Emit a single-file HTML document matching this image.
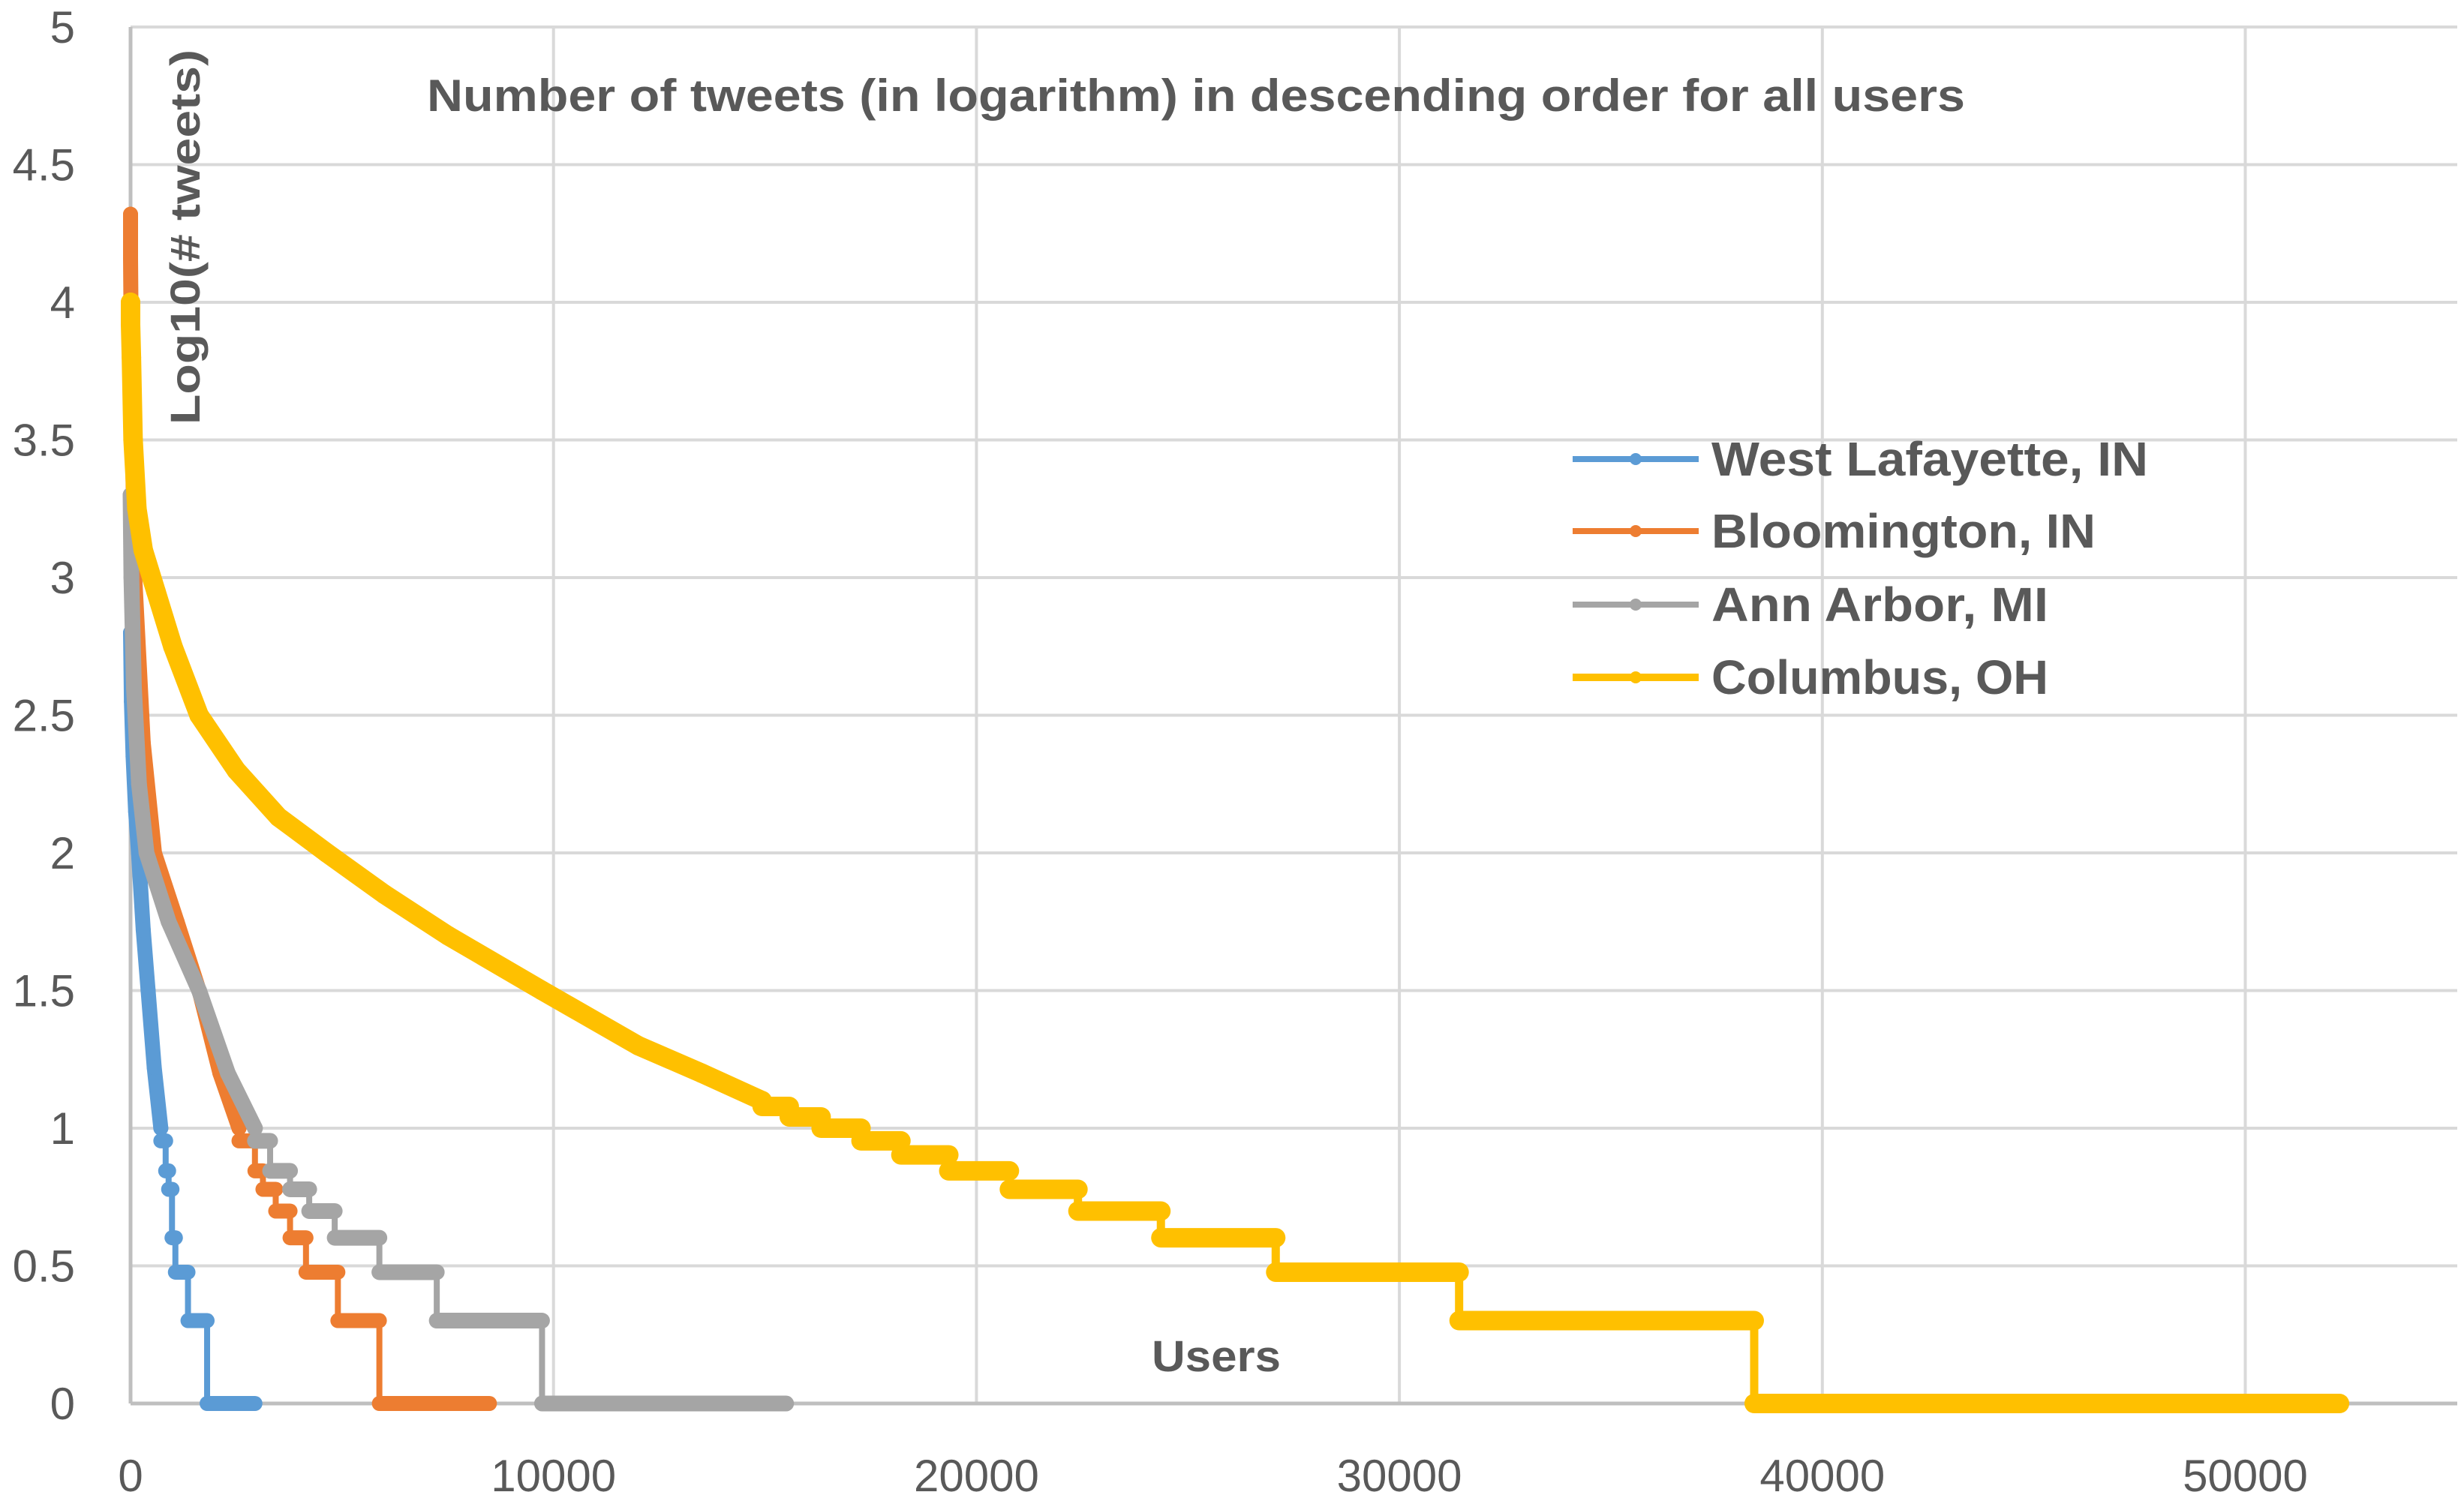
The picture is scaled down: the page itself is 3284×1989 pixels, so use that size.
<!DOCTYPE html>
<html><head><meta charset="utf-8"><style>
html,body{margin:0;padding:0;background:#fff;}
svg{display:block;font-family:"Liberation Sans",sans-serif;}
</style></head><body>
<svg id="chart" width="3284" height="1989" viewBox="0 0 3284 1989" xmlns="http://www.w3.org/2000/svg">
<g id="grid"></g>
<g id="series"></g>
<g id="axes"></g>
<text x="1594" y="148" font-size="60" font-weight="bold" fill="#595959" text-anchor="middle" textLength="2050" lengthAdjust="spacingAndGlyphs">Number of tweets (in logarithm) in descending order for all users</text>
<text transform="translate(266,316) rotate(-90)" font-size="56" font-weight="bold" fill="#595959" text-anchor="middle" textLength="500" lengthAdjust="spacingAndGlyphs">Log10(# tweets)</text>
<text x="1621" y="1828" font-size="58" font-weight="bold" fill="#595959" text-anchor="middle" textLength="172" lengthAdjust="spacingAndGlyphs">Users</text>
<g id="legend"></g>
</svg>
<script>
const NS='http://www.w3.org/2000/svg';
const yTicks=[0,0.5,1,1.5,2,2.5,3,3.5,4,4.5,5];
const yTickLabels=['0','0.5','1','1.5','2','2.5','3','3.5','4','4.5','5'];
const xTicks=[0,10000,20000,30000,40000,50000];
const xTickLabels=['0','10000','20000','30000','40000','50000'];
const seriesNames=['West Lafayette, IN','Bloomington, IN','Ann Arbor, MI','Columbus, OH'];
const seriesColors=['#5b9bd5','#ed7d31','#a5a5a5','#ffc000'];
// smooth parts (rank, log10 tweets)
const wlSmoothX=[0,20,60,120,188,300,415,560,716];
const wlSmoothY=[2.8,2.55,2.35,2.15,2.0,1.72,1.5,1.22,1.0];
const blSmoothX=[0,0,30,100,300,566,1100,1621,2112,2564];
const blSmoothY=[4.32,4.16,3.6,3.0,2.4,2.0,1.75,1.5,1.2,1.0];
const aaSmoothX=[0,20,80,200,377,900,1620,2300,2941];
const aaSmoothY=[3.3,3.0,2.6,2.25,2.0,1.75,1.5,1.2,1.0];
const coSmoothX=[0,0,20,60,150,300,600,1000,1620,2500,3500,4640,6000,7500,9730,12000,13500,14933];
const coSmoothY=[4.0,3.92,3.8,3.5,3.25,3.1,2.95,2.75,2.5,2.3,2.13,2.0,1.85,1.7,1.5,1.3,1.2,1.1];
// step levels: start ranks, levels, final end rank
const wlStepX=[716,830,900,980,1060,1358,1810];
const wlStepY=[0.954,0.845,0.778,0.602,0.477,0.301,0];
const wlEnd=2941;
const blStepX=[2564,2941,3130,3432,3771,4148,4902,5883];
const blStepY=[0.954,0.845,0.778,0.699,0.602,0.477,0.301,0];
const blEnd=8485;
const aaStepX=[2941,3300,3771,4224,4827,5883,7240,9729];
const aaStepY=[0.954,0.845,0.778,0.699,0.602,0.477,0.301,0];
const aaEnd=15500;
const coStepX=[14933,15574,16328,17271,18214,19346,20779,22400,24361,27076,31412,38389];
const coStepY=[1.079,1.041,1.0,0.954,0.903,0.845,0.778,0.699,0.602,0.477,0.301,0];
const coEnd=52228;

const X0=174, XS=563.7/10000, Y0=1871, YS=367, XR=3275;
const xs=r=>X0+r*XS, ys=v=>Y0-v*YS;
function mk(tag,attrs,parent){const e=document.createElementNS(NS,tag);for(const k in attrs)e.setAttribute(k,attrs[k]);parent.appendChild(e);return e;}

const grid=document.getElementById('grid');
yTicks.forEach((v,i)=>{
  if(v>0){const l=mk('line',{x1:X0,x2:XR,y1:ys(v),y2:ys(v),stroke:'#d9d9d9','stroke-width':4},grid);
  
  }
  const t=mk('text',{x:100,y:ys(v)+21,'font-size':60,fill:'#595959','text-anchor':'end'},grid);
  t.textContent=yTickLabels[i];
  
  
});
xTicks.forEach((v,i)=>{
  if(v>0){const l=mk('line',{x1:xs(v),x2:xs(v),y1:ys(5),y2:Y0,stroke:'#d9d9d9','stroke-width':4},grid);
  
  }
  const t=mk('text',{x:xs(v),y:1988,'font-size':60,fill:'#595959','text-anchor':'middle'},grid);
  t.textContent=xTickLabels[i];
  
  
});
const ax=mk('line',{x1:X0,x2:XR,y1:Y0,y2:Y0,stroke:'#bfbfbf','stroke-width':5},grid);


const ay=mk('line',{x1:X0,x2:X0,y1:ys(5),y2:Y0,stroke:'#bfbfbf','stroke-width':5},grid);



const sg=document.getElementById('series');
const all=[
 [wlSmoothX,wlSmoothY,wlStepX,wlStepY,wlEnd,8,20],
 [blSmoothX,blSmoothY,blStepX,blStepY,blEnd,8,20],
 [aaSmoothX,aaSmoothY,aaStepX,aaStepY,aaEnd,8,21],
 [coSmoothX,coSmoothY,coStepX,coStepY,coEnd,11,26]];
const keys=['west-lafayette','bloomington','ann-arbor','columbus'];
all.forEach((s,k)=>{
  const [sx,sy,tx,ty,end,lw,mw]=s;const c=seriesColors[k];
  const g=mk('g',{},sg);
  
  
  let d='M'+xs(sx[0])+' '+ys(sy[0]);
  for(let i=1;i<sx.length;i++)d+=' L'+xs(sx[i])+' '+ys(sy[i]);
  let prev=sy[sy.length-1];
  for(let i=0;i<tx.length;i++){d+=' L'+xs(tx[i])+' '+ys(prev)+' L'+xs(tx[i])+' '+ys(ty[i]);prev=ty[i];}
  d+=' L'+xs(end)+' '+ys(prev);
  const p=mk('path',{d:d,fill:'none',stroke:c,'stroke-width':lw,'stroke-linejoin':'round'},g);
  
  
  let sd='M'+xs(sx[0])+' '+ys(sy[0]);
  for(let i=1;i<sx.length;i++)sd+=' L'+xs(sx[i])+' '+ys(sy[i]);
  const sp=mk('path',{d:sd,fill:'none',stroke:c,'stroke-width':mw,'stroke-linecap':'round','stroke-linejoin':'round'},g);
  
  
  sx.forEach((x,i)=>{const m=mk('circle',{cx:xs(x),cy:ys(sy[i]),r:mw/2,fill:c},g);
    
    });
  for(let i=0;i<tx.length;i++){
    const e=i+1<tx.length?tx[i+1]:end;
    const b=mk('line',{x1:xs(tx[i]),x2:xs(e),y1:ys(ty[i]),y2:ys(ty[i]),stroke:c,'stroke-width':mw,'stroke-linecap':'round'},g);
    
    
  }
});

const lg=document.getElementById('legend');
const ly=[612,708,806,903];
const lw=[582,512,449,449];
seriesNames.forEach((n,i)=>{
  const g=mk('g',{},lg);
  
  
  mk('line',{x1:2096,x2:2264,y1:ly[i],y2:ly[i],stroke:seriesColors[i],'stroke-width':i==3?10:8},g);
  mk('circle',{cx:2180,cy:ly[i],r:8,fill:seriesColors[i]},g);
  const t=mk('text',{x:2281,y:ly[i]+22,'font-size':64,'font-weight':'bold',fill:'#595959',textLength:lw[i],lengthAdjust:'spacingAndGlyphs'},g);
  t.textContent=n;
  
  
});
</script>
</body></html>
